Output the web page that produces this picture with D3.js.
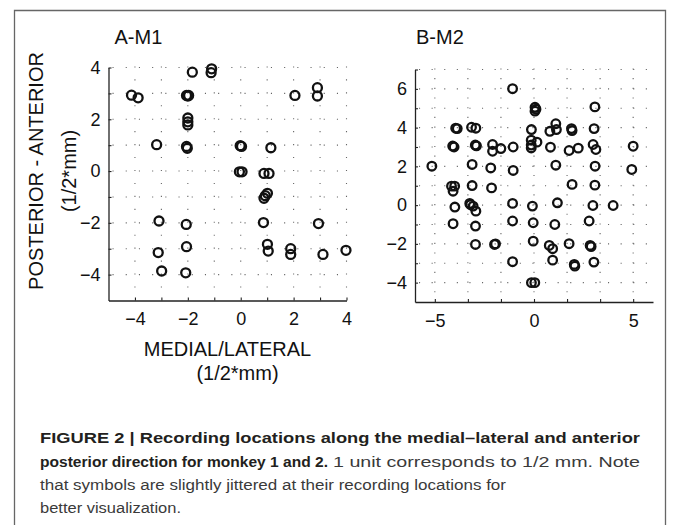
<!DOCTYPE html>
<html>
<head>
<meta charset="utf-8">
<script src="https://cdn.jsdelivr.net/npm/d3@7"></script>
<style>
  html, body { margin: 0; padding: 0; background: #fff; }
  svg { display: block; }
  .tick text { font-family: "Liberation Sans", Arial, sans-serif; fill: #111; }
</style>
</head>
<body>
<svg id="fig" width="673" height="525"></svg>
<script>
// Monkey 1 recording sites (medial/lateral, posterior/anterior), in 1/2 mm units
const m1X = [-4.13, -3.88, -3.18, -1.83, -1.10, -1.12, -2.05, -1.97, -2.00,
  -2.00, -2.00, -2.00, -2.05, -2.02, -0.02, 0.03, 1.14, -0.05, 0.05, 0.88, 1.07,
  1.01, 0.93, 0.88, -3.09, -2.06, 0.86, 2.94, -2.05, -3.12, 1.01, 1.04, 1.89,
  1.89, 3.11, 3.98, -2.99, -2.08, 2.05, 2.90, 2.90];
const m1Y = [2.93, 2.83, 1.02, 3.82, 3.95, 3.80, 2.92, 2.92, 2.90,
  2.05, 1.90, 1.78, 0.95, 0.88, 0.98, 0.95, 0.90, -0.03, -0.03, -0.09, -0.09,
  -0.86, -0.95, -1.05, -1.93, -2.06, -1.99, -2.03, -2.92, -3.15, -2.83, -3.09, -3.00,
  -3.22, -3.22, -3.06, -3.86, -3.93, 2.92, 3.22, 2.90];

// Monkey 2 recording sites
const m2X = [-1.08, 0.05, 0.10, 0.05, 3.07, -3.95, -3.87, -3.15, -2.93, -0.13,
  0.80, 1.10, 1.13, 1.89, 1.92, 3.03, -4.10, -4.03, -2.96, -2.90, -2.09, -2.09,
  -1.67, -1.05, -0.14, -0.14, -0.14, 0.15, 0.83, 1.77, 2.23, 2.98, 3.12, 5.00,
  -5.15, -3.12, -2.18, -1.05, 1.10, 3.08, 4.93, -4.16, -4.00, -4.08, -3.12,
  -2.14, 1.92, 3.07, -3.99, -3.24, -3.07, -2.93, -3.20, -1.08, -0.08, 1.18, 2.97,
  3.99, -4.08, -2.95, -1.08, -0.04, 1.05, 2.78, -2.95, -1.99, -1.94, -0.04, 0.77,
  0.94, 1.77, 2.83, 2.88, -1.08, 0.94, 2.03, 2.06, 3.02, -0.13, 0.04];
const m2Y = [6.01, 5.05, 4.95, 4.85, 5.07, 3.97, 3.95, 4.02, 3.97, 3.90,
  3.81, 4.20, 3.90, 3.95, 3.85, 3.95, 3.05, 3.00, 3.10, 3.06, 3.13, 2.78,
  2.92, 3.00, 3.35, 3.10, 2.95, 3.25, 2.99, 2.82, 2.94, 3.13, 2.87, 3.04,
  2.01, 2.10, 1.92, 1.79, 2.06, 2.01, 1.84, 0.98, 0.98, 0.72, 1.01,
  0.89, 1.07, 1.03, -0.10, 0.09, -0.05, -0.31, 0.02, 0.09, -0.05, 0.12, -0.02,
  -0.02, -0.96, -1.08, -0.82, -0.91, -1.00, -0.82, -2.03, -2.03, -2.00, -1.86, -2.08,
  -2.25, -1.99, -2.08, -2.14, -2.92, -2.84, -3.06, -3.15, -2.94, -4.00, -4.00];

// Axis ticks and their labels
const m1XTicks = [-4, -3, -2, -1, 0, 1, 2, 3, 4];
const m1XLabels = [-4, -2, 0, 2, 4];
const m1YTicks = [-4, -3, -2, -1, 0, 1, 2, 3, 4];
const m1YLabels = [-4, -2, 0, 2, 4];
const m2XTicks = [-5, -10 / 3, -5 / 3, 0, 5 / 3, 10 / 3, 5];
const m2XLabels = [-5, 0, 5];
const m2YTicks = [-4, -3, -2, -1, 0, 1, 2, 3, 4, 5, 6, 7];
const m2YLabels = [-4, -2, 0, 2, 4, 6];

const panelTitles = ["A-M1", "B-M2"];
const xTitle = ["MEDIAL/LATERAL", "(1/2*mm)"];
const yTitle = ["POSTERIOR - ANTERIOR", "(1/2*mm)"];

const svg = d3.select("#fig");
const FONT = '"Liberation Sans", Arial, Helvetica, sans-serif';

// outer frame (open at the bottom edge of the page)
svg.append("path")
  .attr("d", "M14.5,526 V10.5 H665.5 V526")
  .attr("fill", "none").attr("stroke", "#666").attr("stroke-width", 1.3);

function panel(cfg) {
  const { x, y, xTicks, xLabels, yTicks, yLabels, xs, ys, r } = cfg;
  const g = svg.append("g");
  const [x0, x1] = x.range();
  const [y0, y1] = y.range();
  const lab = (arr) => (d) => arr.some(v => Math.abs(v - d) < 1e-6) ? d3.format("d")(d) : "";

  // dotted grid
  const half = Math.abs(y(0) - y(0.5));
  const grid = g.append("g").attr("stroke", "#666").attr("stroke-width", 1.1)
    .attr("stroke-linecap", "butt");
  grid.selectAll("line.h").data(yTicks).join("line").attr("class", "h")
    .attr("x1", x0 + 4).attr("x2", x1 + 1)
    .attr("y1", d => y(d)).attr("y2", d => y(d))
    .attr("stroke-dasharray", `1.1 ${cfg.hGap - 1.1}`);
  grid.selectAll("line.v").data(xTicks).join("line").attr("class", "v")
    .attr("x1", d => x(d)).attr("x2", d => x(d))
    .attr("y1", y0 - half).attr("y2", y1 - 1)
    .attr("stroke-dasharray", `1.1 ${half - 1.1}`);

  // axes
  const ax = g.append("g").attr("transform", `translate(0,${y0})`)
    .call(d3.axisBottom(x).tickValues(xTicks).tickFormat(lab(xLabels))
      .tickSizeInner(-3).tickSizeOuter(0).tickPadding(12));
  const ay = g.append("g").attr("transform", `translate(${x0},0)`)
    .call(d3.axisLeft(y).tickValues(yTicks).tickFormat(lab(yLabels))
      .tickSizeInner(-3).tickSizeOuter(0).tickPadding(8));
  [ax, ay].forEach(a => {
    a.select(".domain").attr("stroke", "#222").attr("stroke-width", 1.3);
    a.selectAll(".tick line").attr("stroke", "#222").attr("stroke-width", 1.1);
    a.selectAll(".tick text").style("font-size", "18px").style("font-family", FONT);
  });

  // recording sites
  g.append("g").selectAll("circle").data(xs.map((v, i) => [v, ys[i]])).join("circle")
    .attr("cx", d => x(d[0])).attr("cy", d => y(d[1])).attr("r", r)
    .attr("fill", "none").attr("stroke", "#111").attr("stroke-width", 2.3);

  // panel title
  g.append("text").attr("x", x0 + cfg.titleDx).attr("y", 44)
    .style("font-family", FONT).style("font-size", "20px").attr("fill", "#111")
    .text(cfg.title);
  return g;
}

const xA = d3.scaleLinear([-5, 4], [108.5, 346.5]);
const yA = d3.scaleLinear([-5, 4], [300.5, 67.5]);
const xB = d3.scaleLinear([-6, 6], [415, 653]);
const yB = d3.scaleLinear([-5, 7], [302, 69.5]);

panel({ x: xA, y: yA, xTicks: m1XTicks, xLabels: m1XLabels, yTicks: m1YTicks,
  yLabels: m1YLabels, xs: m1X, ys: m1Y, r: 4.5, hGap: 13.2, title: panelTitles[0], titleDx: 6 });
panel({ x: xB, y: yB, xTicks: m2XTicks, xLabels: m2XLabels, yTicks: m2YTicks,
  yLabels: m2YLabels, xs: m2X, ys: m2Y, r: 4.3, hGap: 12.6, title: panelTitles[1], titleDx: 1 });

// axis titles for the left panel
const xMid = (xA.range()[0] + xA.range()[1]) / 2;
svg.append("text").attr("x", xMid).attr("y", 356).attr("text-anchor", "middle")
  .style("font-family", FONT).style("font-size", "20px").attr("fill", "#111").text(xTitle[0]);
svg.append("text").attr("x", xMid + 10).attr("y", 380).attr("text-anchor", "middle")
  .style("font-family", FONT).style("font-size", "20px").attr("fill", "#111").text(xTitle[1]);
const yMid = 171;
svg.append("text").attr("transform", `translate(43,${yMid}) rotate(-90)`).attr("text-anchor", "middle")
  .style("font-family", FONT).style("font-size", "20px").attr("fill", "#111").text(yTitle[0]);
svg.append("text").attr("transform", `translate(76,${yMid}) rotate(-90)`).attr("text-anchor", "middle")
  .style("font-family", FONT).style("font-size", "20px").attr("fill", "#111").text(yTitle[1]);

// caption
const cap = svg.append("g").style("font-family", FONT).style("font-size", "15.5px");
cap.append("text").attr("x", 40).attr("y", 443).attr("font-weight", "bold").attr("fill", "#231f20")
  .attr("textLength", 600).attr("lengthAdjust", "spacingAndGlyphs")
  .text("FIGURE 2 | Recording locations along the medial\u2013lateral and anterior");
cap.append("text").attr("x", 40).attr("y", 467).attr("font-weight", "bold").attr("fill", "#231f20")
  .attr("textLength", 288).attr("lengthAdjust", "spacingAndGlyphs")
  .text("posterior direction for monkey 1 and 2.");
cap.append("text").attr("x", 333).attr("y", 467).attr("fill", "#3a3a3a")
  .attr("textLength", 307).attr("lengthAdjust", "spacingAndGlyphs")
  .text("1 unit corresponds to 1/2 mm. Note");
cap.append("text").attr("x", 40).attr("y", 490).attr("fill", "#3a3a3a")
  .attr("textLength", 466).attr("lengthAdjust", "spacingAndGlyphs")
  .text("that symbols are slightly jittered at their recording locations for");
cap.append("text").attr("x", 40).attr("y", 513).attr("fill", "#3a3a3a")
  .attr("textLength", 141).attr("lengthAdjust", "spacingAndGlyphs")
  .text("better visualization.");
</script>
</body>
</html>
